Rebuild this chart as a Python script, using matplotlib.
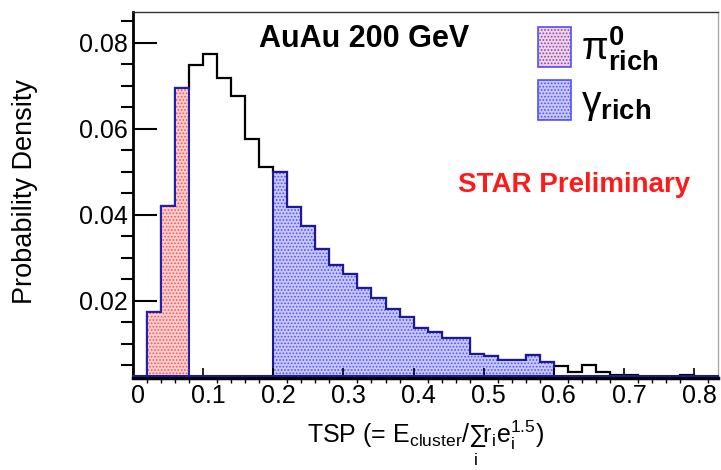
import numpy as np
import matplotlib.pyplot as plt
import matplotlib.transforms as mtransforms
from matplotlib.patches import Patch
from matplotlib.ticker import MultipleLocator

plt.rcParams['font.family'] = ['Liberation Sans', 'DejaVu Sans']
plt.rcParams['mathtext.fontset'] = 'custom'
plt.rcParams['mathtext.rm'] = 'Liberation Sans'
plt.rcParams['mathtext.it'] = 'Liberation Sans:italic'
plt.rcParams['mathtext.bf'] = 'Liberation Sans:bold'
plt.rcParams['hatch.linewidth'] = 0.8

# TSP histogram, bin width 0.02 starting at 0
bin_edges = np.round(np.arange(0, 0.86, 0.02), 2)
tsp_all = [0.0, 0.0174, 0.0421, 0.0695, 0.0748, 0.0774, 0.0718, 0.0676, 0.0576, 0.0511,
           0.0499, 0.0418, 0.0373, 0.0321, 0.0284, 0.0261, 0.0230, 0.0207, 0.0181, 0.0163,
           0.0137, 0.0127, 0.0113, 0.0113, 0.0076, 0.0072, 0.0062, 0.0062, 0.0074, 0.0058,
           0.0049, 0.0035, 0.0051, 0.0035, 0.0028, 0.0028, 0.0023, 0.0023, 0.0023, 0.0028,
           0.0020, 0.0020]
pi0_range = (0.02, 0.08)      # pi0-rich cut
gamma_range = (0.20, 0.60)    # gamma-rich cut

tsp_all = np.array(tsp_all)
lo = bin_edges[:-1]
pi0 = np.where((lo >= pi0_range[0] - 1e-9) & (lo < pi0_range[1] - 1e-9), tsp_all, 0)
gam = np.where((lo >= gamma_range[0] - 1e-9) & (lo < gamma_range[1] - 1e-9), tsp_all, 0)

ymin, ymax = 0.002, 0.0872

fig = plt.figure(figsize=(7.21, 4.70), dpi=100)
ax = fig.add_axes([0.1845, 0.1957, 0.8113, 0.7788])

ax.stairs(tsp_all, bin_edges, color='black', lw=1.6)
ax.stairs(pi0, bin_edges, fill=True, facecolor='#ffd0d0', edgecolor='#ff5050',
          hatch='.....', lw=0)
ax.stairs(gam, bin_edges, fill=True, facecolor='#c8c8ff', edgecolor='#5050ff',
          hatch='.....', lw=0)
ax.stairs(pi0, bin_edges, color='#2020b0', lw=1.5)
ax.stairs(gam, bin_edges, color='#1a1a9a', lw=1.5)
# blue baseline of the histograms, sitting just on top of the axis line
base_tr = mtransforms.offset_copy(ax.get_yaxis_transform(), fig=fig, x=0, y=2, units='dots')
ax.plot([0, 1], [ymin, ymin], transform=base_tr, color='#1a1a9a', lw=1.5, zorder=5,
        clip_on=False)

ax.set_xlim(0, 0.834)
ax.set_ylim(ymin, ymax)
ax.xaxis.set_minor_locator(MultipleLocator(0.02))
ax.yaxis.set_minor_locator(MultipleLocator(0.005))
ax.set_xticks(np.arange(0, 0.81, 0.1))
ax.set_xticklabels(['0', '0.1', '0.2', '0.3', '0.4', '0.5', '0.6', '0.7', '0.8'])
ax.set_yticks([0.02, 0.04, 0.06, 0.08])
ax.set_yticklabels(['0.02', '0.04', '0.06', '0.08'])
ax.tick_params(axis='both', direction='in', labelsize=18, colors='black')
ax.tick_params(axis='y', which='major', length=17, width=1.5, pad=4)
ax.tick_params(axis='y', which='minor', length=8.5, width=1.5)
ax.tick_params(axis='x', which='major', length=7, width=1.2, pad=4)
ax.tick_params(axis='x', which='minor', length=3.5, width=1.0)
shift = mtransforms.ScaledTranslation(5 / 100, 0, fig.dpi_scale_trans)
for lab in ax.get_xticklabels():
    lab.set_transform(lab.get_transform() + shift)

ax.spines['bottom'].set_linewidth(2.5)
ax.spines['bottom'].set_zorder(4)
ax.spines['left'].set_linewidth(2)
ax.spines['top'].set_linewidth(1)
ax.spines['top'].set_color('#333333')
ax.spines['right'].set_linewidth(1)
ax.spines['right'].set_color('#aaaaaa')

ax.set_ylabel('Probability Density', fontsize=19.5)
ax.yaxis.set_label_coords(-0.163, 0.51)
ax.set_xlabel(r'TSP (= E$_{\rm cluster}$/$\sum_{\rm i}$r$_{\rm i}$e$_{\rm i}^{1.5}$)',
              fontsize=18)
ax.xaxis.set_label_coords(0.5, -0.112)

ax.text(0.215, 0.925, 'AuAu 200 GeV', transform=ax.transAxes, fontsize=22,
        fontweight='bold', ha='left', va='center')
ax.text(0.952, 0.527, 'STAR Preliminary', transform=ax.transAxes, fontsize=20,
        fontweight='bold', color='#ff1a1a', ha='right', va='center')

handles = [Patch(facecolor='#ffd0d0', edgecolor='#ff5050', hatch='.....', lw=0),
           Patch(facecolor='#c8c8ff', edgecolor='#5050ff', hatch='.....', lw=0)]
leg = ax.legend(handles, [r'$\mathrm{\pi}^{\mathbf{0}}_{\mathbf{rich}}$',
                          r'$\mathrm{\gamma}_{\mathbf{rich}}$'],
                loc='upper left', bbox_to_anchor=(0.652, 1.03), frameon=False,
                fontsize=28, handlelength=0.85, handleheight=1.2,
                handletextpad=0.25, labelspacing=0.2, borderaxespad=0.2)
for p in leg.get_patches():
    p.set_edgecolor('#5050ff')
    p.set_linewidth(1.2)

fig.savefig('out.png', dpi=100)
